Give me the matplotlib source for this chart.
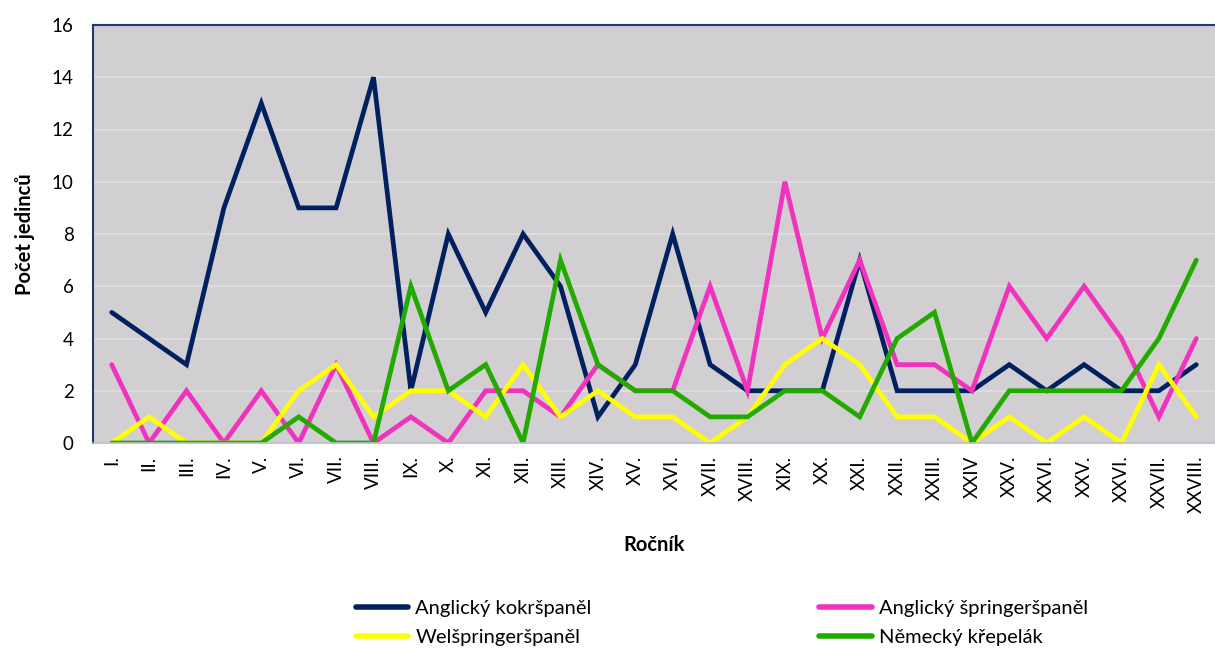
import numpy as np
import matplotlib
matplotlib.use("Agg")
import matplotlib.pyplot as plt

plt.rcParams['font.family'] = ['Lato', 'DejaVu Sans']

# categories (as printed on the axis)
rocnik = ["I.", "II.", "III.", "IV.", "V.", "VI.", "VII.", "VIII.", "IX.", "X.",
          "XI.", "XII.", "XIII.", "XIV.", "XV.", "XVI.", "XVII.", "XVIII.", "XIX.", "XX.",
          "XXI.", "XXII.", "XXIII.", "XXIV", "XXV.", "XXVI.", "XXV.", "XXVI.", "XXVII.", "XXVIII."]

kokr = [5, 4, 3, 9, 13, 9, 9, 14, 2, 8, 5, 8, 6, 1, 3, 8, 3, 2, 2, 2,
        7, 2, 2, 2, 3, 2, 3, 2, 2, 3]
springer = [3, 0, 2, 0, 2, 0, 3, 0, 1, 0, 2, 2, 1, 3, 2, 2, 6, 2, 10, 4,
            7, 3, 3, 2, 6, 4, 6, 4, 1, 4]
welsh = [0, 1, 0, 0, 0, 2, 3, 1, 2, 2, 1, 3, 1, 2, 1, 1, 0, 1, 3, 4,
         3, 1, 1, 0, 1, 0, 1, 0, 3, 1]
krepelak = [0, 0, 0, 0, 0, 1, 0, 0, 6, 2, 3, 0, 7, 3, 2, 2, 1, 1, 2, 2,
            1, 4, 5, 0, 2, 2, 2, 2, 4, 7]

series = [
    ("Anglický kokršpaněl", kokr, "#002060"),
    ("Anglický špringeršpaněl", springer, "#F032BE"),
    ("Welšpringeršpaněl", welsh, "#FFFF00"),
    ("Německý křepelák", krepelak, "#22AA00"),
]

fig = plt.figure(figsize=(12.15, 6.53), dpi=100)
ax = fig.add_axes([93 / 1215, 1 - 443 / 653, 1122 / 1215, 418 / 653])
ax.set_facecolor("#D1CFD1")

x = np.arange(len(rocnik))
lines = {}
for name, vals, c in series:
    lines[name], = ax.plot(x, vals, color=c, lw=3.4, label=name,
                           solid_capstyle='round', solid_joinstyle='miter')

ax.set_xlim(-0.5, len(rocnik) - 0.5)
ax.set_ylim(0, 16)
ax.set_yticks(np.arange(0, 17, 2))
ax.set_xticks(x)
ax.set_xticklabels(rocnik, rotation=90, fontsize=13.5)
ax.tick_params(axis='y', labelsize=13.5, length=0, pad=14)
ax.tick_params(axis='x', length=0, pad=9)
ax.grid(axis='y', color='#E0DFE0', lw=1.2)
ax.set_axisbelow(True)

for s in ['left', 'top']:
    ax.spines[s].set_color('#1F3A78')
    ax.spines[s].set_linewidth(1.5)
ax.spines['right'].set_visible(False)
ax.spines['bottom'].set_color('#B8BEC8')
ax.spines['bottom'].set_linewidth(1.2)

ax.set_ylabel("Počet jedinců", fontsize=14.5, fontweight='bold', labelpad=12)
ax.set_xlabel("Ročník", fontsize=14.5, fontweight='bold', labelpad=16)

# legend filled row by row like the original: column 1 = kokr, welsh
order = ["Anglický kokršpaněl", "Welšpringeršpaněl",
         "Anglický špringeršpaněl", "Německý křepelák"]
leg = fig.legend([lines[n] for n in order], order, loc='center left',
                 bbox_to_anchor=(356 / 1215, 1 - 623 / 653), ncol=2, frameon=False,
                 borderpad=0, borderaxespad=0,
                 fontsize=14.5, handlelength=2.6, handletextpad=0.35,
                 columnspacing=11.3, labelspacing=0.62)
for h in leg.get_lines():
    h.set_linewidth(4)

fig.savefig("out.png", dpi=100)
